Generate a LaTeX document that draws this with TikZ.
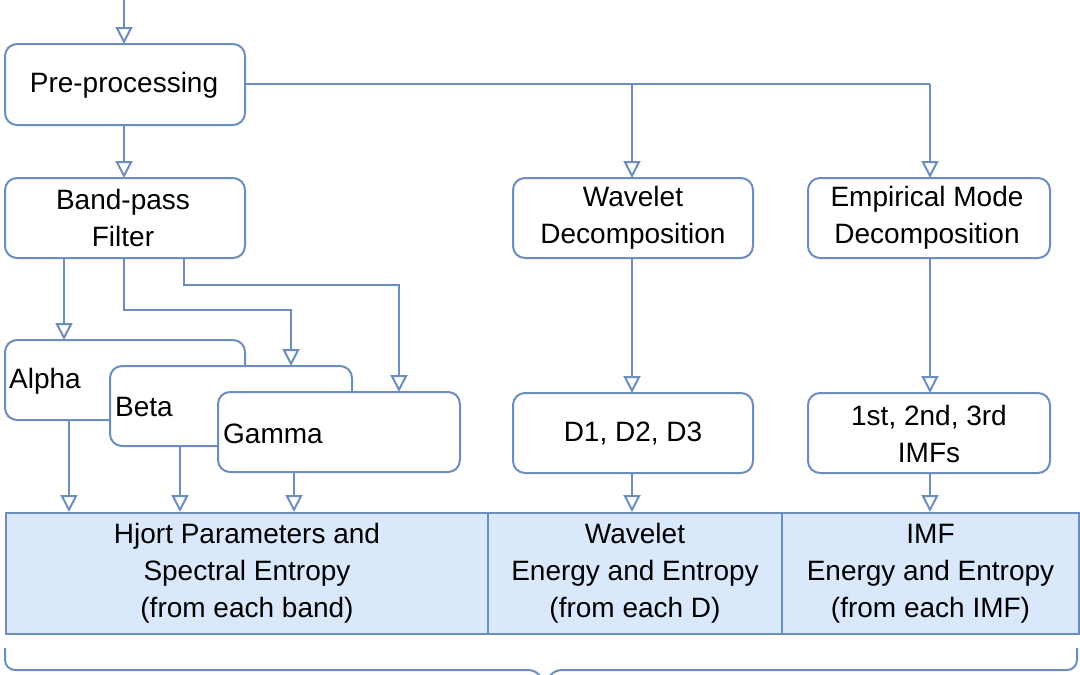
\documentclass[tikz,border=0pt]{standalone}
\usepackage{fontspec}
\setmainfont{Liberation Sans}
\usetikzlibrary{arrows.meta}
\definecolor{ln}{HTML}{6C8EBF}
\definecolor{fl}{HTML}{DAE8FC}
\begin{document}
\begin{tikzpicture}[x=1pt,y=-1pt,
  tf/.style={font=\fontsize{28}{37}\selectfont},
  box/.style={draw=ln,line width=2pt,rounded corners=12pt,fill=white},
  tx/.style={tf,align=center,inner sep=0pt},
  res/.style={draw=ln,line width=2pt,fill=fl,align=center,tf},
  ar/.style={draw=ln,line width=2pt,-{Triangle[open,width=17pt,length=17pt]}},
  ln/.style={draw=ln,line width=2pt}]
\useasboundingbox (0,0) rectangle (1080,675);
\clip (0,0) rectangle (1080,675);
\path[box] (5,44) rectangle (245,125); \node[tx] (pre) at (124,85) {Pre-processing};
\path[box] (5,178) rectangle (245,258); \node[tx] (bp) at (123,218) {Band-pass\\Filter};
\path[box] (513,178) rectangle (753,258); \node[tx] (wd) at (633,218) {Wavelet\\Decomposition};
\path[box] (808,178) rectangle (1050,258); \node[tx] (emd) at (927,218) {Empirical Mode\\Decomposition};
\path[box] (5,340) rectangle (245,420); \node[tx,anchor=west] (al) at (9,381) {Alpha};
\path[box] (110,366) rectangle (352,446); \node[tx,anchor=west] (be) at (115,407) {Beta};
\path[box] (218,392) rectangle (460,472); \node[tx,anchor=west] (ga) at (223,434) {Gamma};
\path[box] (513,393) rectangle (753,473); \node[tx] (dd) at (633,434) {D1, D2, D3};
\path[box] (808,393) rectangle (1050,473); \node[tx] (imf) at (929,434) {1st, 2nd, 3rd\\IMFs};
\node[res,minimum width=482pt,minimum height=121pt,anchor=north west] (h) at (5,512) {Hjort Parameters and\\Spectral Entropy\\(from each band)};
\node[res,minimum width=294pt,minimum height=121pt,anchor=north west] (w) at (487,512) {Wavelet\\Energy and Entropy\\(from each D)};
\node[res,minimum width=297pt,minimum height=121pt,anchor=north west] (i) at (781,512) {IMF\\Energy and Entropy\\(from each IMF)};
\coordinate (top) at (124,0);
\draw[ar] (top) -- (124,44);
\draw[ar] (124,125) -- (124,178);
\draw[ln] (245,84) -- (930,84);
\draw[ar] (632,84) -- (632,178);
\draw[ar] (930,84) -- (930,178);
\draw[ar] (64,258) -- (64,340);
\draw[ar] (124,258) -- (124,310) -- (291,310) -- (291,366);
\draw[ar] (184,258) -- (184,285) -- (399,285) -- (399,392);
\draw[ar] (69,420) -- (69,512);
\draw[ar] (180,446) -- (180,512);
\draw[ar] (294,472) -- (294,512);
\draw[ar] (632,258) -- (632,393);
\draw[ar] (632,473) -- (632,512);
\draw[ar] (930,258) -- (930,393);
\draw[ar] (930,473) -- (930,512);
\draw[ln] (5,648) -- (5,660) arc[start angle=180,end angle=90,radius=10] -- (528,670) to[out=0,in=90] (545,690);
\draw[ln] (545,690) to[out=90,in=180] (562,670) -- (1067,670) arc[start angle=90,end angle=0,radius=10] -- (1077,648);
\end{tikzpicture}
\end{document}
